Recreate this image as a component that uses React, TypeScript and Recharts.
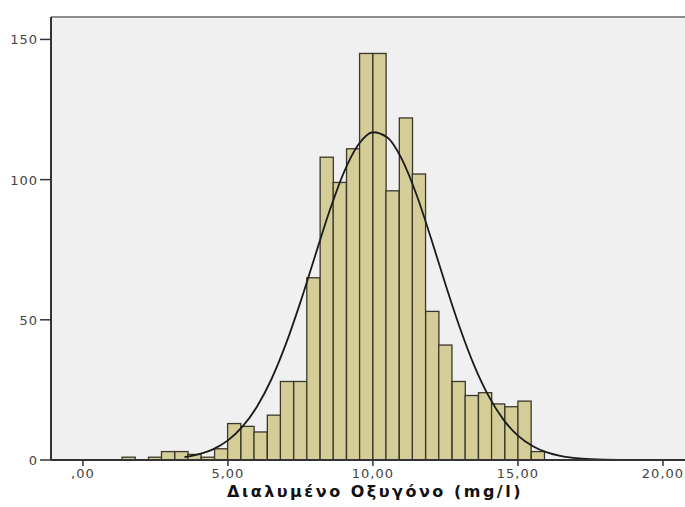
import React from 'react';
import {
  ComposedChart,
  Bar,
  Line,
  XAxis,
  YAxis,
  CartesianGrid,
  ReferenceLine
} from 'recharts';

// histogram bins (centre of each bin) and counts
const binCenters = [
  1.58, 2.03, 2.49, 2.94, 3.40, 3.85, 4.31, 4.77, 5.22, 5.68, 6.13, 6.59,
  7.04, 7.50, 7.95, 8.41, 8.86, 9.32, 9.77, 10.23, 10.68, 11.14, 11.59, 12.05,
  12.50, 12.96, 13.41, 13.87, 14.32, 14.78, 15.23, 15.69
];
const binCounts = [
  1, 0, 1, 3, 3, 2, 1, 4, 13, 12, 10, 16,
  28, 28, 65, 108, 99, 111, 145, 145, 96, 122, 102, 53,
  41, 28, 23, 24, 20, 19, 21, 3
];
const BIN_WIDTH = 0.455;

// fitted normal curve
const curveX = [
  3.5, 4, 4.5, 5, 5.5, 6, 6.5, 7, 7.5, 8, 8.5, 9, 9.5, 10, 10.5, 11, 11.5,
  12, 12.5, 13, 13.5, 14, 14.5, 15, 15.5, 16, 16.5, 17, 17.5, 18, 19, 20
];
const curveY = [
  1.0, 2.1, 3.9, 7.0, 11.9, 19.0, 28.8, 41.4, 56.3, 72.6, 88.7, 102.6, 112.5,
  116.9, 115.0, 107.2, 94.7, 79.2, 62.7, 47.1, 33.5, 22.6, 14.4, 8.7, 5.0,
  2.7, 1.4, 0.7, 0.3, 0.1, 0, 0
];

const xTicks = [0, 5, 10, 15, 20];
const xTickLabels = [',00', '5,00', '10,00', '15,00', '20,00'];
const yTicks = [0, 50, 100, 150];
const xLabel = 'Διαλυμένο Οξυγόνο (mg/l)';

const CHART_W = 685;
const CHART_H = 507;
const AXIS_W = 51;
const X_DOMAIN: [number, number] = [-1.1, 20.76];
const Y_DOMAIN: [number, number] = [0, 158];

const histData = binCenters.map((x, i) => ({ x, count: binCounts[i] }));
const curveData = curveX.map((x, i) => ({ x, density: curveY[i] }));

// bin width in pixels, from the x scale
const binPx = ((CHART_W - AXIS_W) * BIN_WIDTH) / (X_DOMAIN[1] - X_DOMAIN[0]);

const FONT = '"DejaVu Sans", Verdana, sans-serif';

const HistBar = (props: any) => {
  const { x, y, width, height } = props;
  if (!height || height <= 0) return null;
  const cx = x + width / 2;
  return (
    <rect
      x={cx - binPx / 2}
      y={y}
      width={binPx}
      height={height}
      fill="#D5CD98"
      stroke="#3A382A"
      strokeWidth={1.3}
    />
  );
};

const XTick = ({ x, y, payload }: any) => {
  const i = xTicks.indexOf(payload.value);
  return (
    <text x={x} y={y} dy={10} textAnchor="middle" fontFamily={FONT} fontSize={13} letterSpacing={1} fill="#444">
      {xTickLabels[i]}
    </text>
  );
};

const YTick = ({ x, y, payload }: any) => (
  <text x={x} y={y} dy={5} textAnchor="end" fontFamily={FONT} fontSize={13} letterSpacing={1} fill="#444">
    {payload.value}
  </text>
);

const AxisTitle = ({ viewBox }: any) => (
  <text
    x={viewBox.x + viewBox.width / 2 + 7}
    y={viewBox.y + viewBox.height - 10}
    textAnchor="middle"
    fontFamily={FONT}
    fontWeight="bold"
    fontSize={16}
    letterSpacing={2.5}
    fill="#111"
  >
    {xLabel}
  </text>
);

export default function App() {
  return (
    <div style={{ position: 'absolute', left: 0, top: 0, background: '#fff' }}>
      <ComposedChart
        width={CHART_W}
        height={CHART_H}
        data={histData}
        margin={{ top: 17, right: 0, bottom: 0, left: 0 }}
        barCategoryGap={0}
        barGap={0}
      >
        <CartesianGrid fill="#F0F0F0" horizontal={false} vertical={false} />
        <XAxis
          dataKey="x"
          type="number"
          domain={X_DOMAIN}
          ticks={xTicks}
          allowDataOverflow
          height={47}
          tickSize={6}
          axisLine={{ stroke: '#333', strokeWidth: 2 }}
          tickLine={{ stroke: '#333', strokeWidth: 1.5 }}
          tick={<XTick />}
          label={{ content: AxisTitle }}
        />
        <YAxis
          type="number"
          domain={Y_DOMAIN}
          ticks={yTicks}
          allowDataOverflow
          width={AXIS_W}
          tickSize={11}
          axisLine={{ stroke: '#333', strokeWidth: 2 }}
          tickLine={{ stroke: '#333', strokeWidth: 1.5 }}
          tick={<YTick />}
        />
        <ReferenceLine y={Y_DOMAIN[1]} stroke="#8C8C8C" strokeWidth={2} />
        <Bar dataKey="count" shape={<HistBar />} isAnimationActive={false} />
        <Line
          data={curveData}
          dataKey="density"
          type="monotone"
          stroke="#1B1B1B"
          strokeWidth={1.8}
          dot={false}
          activeDot={false}
          isAnimationActive={false}
        />
      </ComposedChart>
    </div>
  );
}
